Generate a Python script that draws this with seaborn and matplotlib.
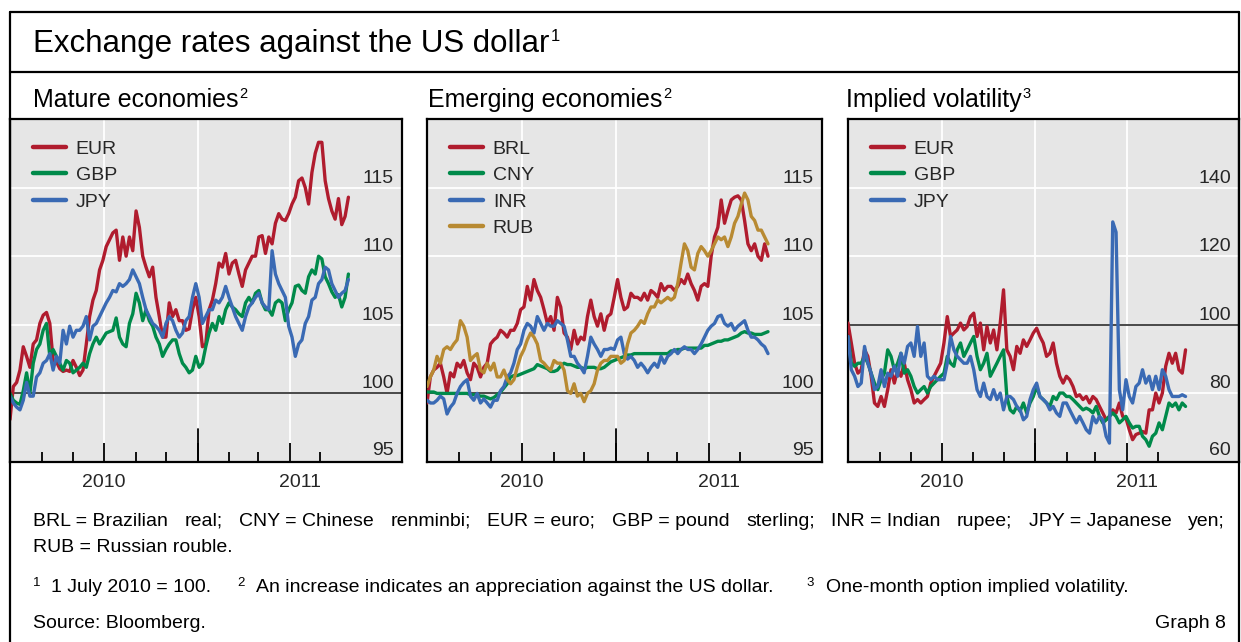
import numpy as np
import pandas as pd
import matplotlib
matplotlib.use("Agg")
import matplotlib.pyplot as plt
import matplotlib.dates as mdates
import matplotlib.ticker as mticker
import matplotlib.transforms as mtransforms
from matplotlib.lines import Line2D
import seaborn as sns

# ---------------- data (index, 1 July 2010 = 100) ----------------
START = "2010-07-01"
N_OBS = 103
dates = pd.date_range(START, periods=N_OBS, freq="78h")

mature_eur = [
    98.1, 100.5, 100.8, 101.7, 103.4, 102.7, 101.9, 103.6, 103.9, 105.1,
    105.7, 105.9, 105.1, 102.4, 102.3, 101.8, 101.6, 101.7, 101.6, 102.4,
    101.9, 101.3, 101.7, 103.6, 105.6, 106.8, 107.5, 109.0, 109.7, 110.7,
    111.2, 111.7, 111.9, 109.7, 111.4, 110.0, 111.4, 110.4, 113.3, 112.1,
    110.0, 109.2, 108.5, 109.2, 107.0, 105.6, 104.1, 104.1, 106.6, 105.6,
    106.1, 105.3, 105.3, 104.6, 104.7, 106.1, 107.0, 105.6, 103.4, 103.6,
    106.1, 106.8, 108.0, 109.5, 109.2, 110.2, 108.7, 109.5, 109.7, 108.7,
    107.8, 109.0, 109.5, 110.0, 110.0, 111.4, 111.5, 110.2, 111.4, 110.9,
    112.4, 113.1, 112.7, 112.6, 113.1, 113.8, 114.3, 115.5, 115.7, 115.0,
    113.8, 116.1, 117.5, 118.3, 118.3, 115.5, 114.2, 113.3, 112.7, 114.2,
    112.3, 112.9, 114.3]
mature_gbp = [
    100.0, 99.5, 99.3, 99.2, 100.2, 101.5, 100.0, 102.2, 103.2, 103.6,
    104.6, 105.1, 102.7, 103.2, 102.7, 102.2, 101.7, 102.4, 102.2, 101.5,
    101.7, 101.9, 102.2, 101.9, 102.9, 103.6, 104.1, 103.6, 104.0, 104.4,
    104.5, 104.6, 105.5, 104.1, 103.6, 103.4, 105.1, 105.8, 107.3, 106.6,
    105.3, 106.1, 105.3, 104.9, 104.1, 103.6, 102.7, 103.2, 103.6, 103.9,
    103.9, 102.9, 102.2, 101.9, 101.5, 101.7, 102.7, 101.9, 102.2, 103.4,
    104.4, 105.1, 104.6, 105.6, 105.1, 106.1, 106.6, 106.3, 106.1, 105.8,
    105.6, 106.6, 107.0, 106.6, 107.3, 107.5, 106.6, 106.1, 106.1, 105.7,
    106.6, 106.8, 106.6, 105.3, 106.1, 106.6, 107.8, 107.9, 107.5, 107.3,
    108.5, 109.0, 108.7, 110.0, 109.8, 108.5, 108.0, 107.4, 107.0, 107.2,
    106.3, 107.0, 108.7]
mature_jpy = [
    99.8, 99.3, 99.0, 98.8, 99.5, 100.8, 99.8, 99.8, 101.2, 101.5,
    102.2, 102.4, 102.9, 101.7, 102.7, 102.2, 104.6, 103.6, 104.9, 104.1,
    104.6, 104.6, 104.9, 105.6, 103.9, 104.9, 105.1, 105.6, 106.1, 106.6,
    107.0, 107.5, 107.4, 108.0, 107.8, 108.0, 108.3, 109.0, 108.5, 108.0,
    107.0, 106.1, 105.6, 105.1, 104.9, 104.6, 104.1, 105.1, 105.6, 105.3,
    104.6, 104.1, 104.4, 105.3, 105.6, 107.0, 108.0, 107.0, 105.1, 105.6,
    106.1, 106.1, 106.8, 106.6, 107.0, 107.8, 107.0, 106.3, 105.6, 105.1,
    104.6, 105.6, 106.3, 106.6, 107.0, 107.3, 106.6, 106.3, 106.1, 110.4,
    108.7, 108.0, 107.5, 107.0, 104.9, 104.1, 102.7, 103.6, 103.9, 105.1,
    105.6, 106.8, 107.0, 108.0, 108.3, 109.2, 109.0, 108.0, 107.5, 107.0,
    107.3, 107.5, 108.3]

emerging_brl = [
    99.3, 101.2, 101.7, 101.9, 102.2, 101.2, 100.0, 101.5, 101.2, 102.2,
    101.9, 102.4, 101.5, 101.0, 102.2, 101.9, 101.2, 101.9, 102.2, 103.6,
    103.9, 104.1, 104.6, 104.4, 104.1, 104.6, 104.6, 105.1, 106.1, 106.3,
    107.8, 106.8, 108.3, 107.5, 107.0, 106.1, 105.1, 105.6, 104.6, 107.0,
    106.3, 104.4, 104.1, 103.2, 104.6, 103.6, 104.1, 103.9, 105.6, 106.8,
    105.6, 104.9, 105.8, 104.6, 105.6, 105.8, 107.0, 108.3, 107.0, 106.1,
    106.3, 107.3, 107.0, 107.0, 106.8, 107.3, 106.8, 107.5, 107.3, 107.0,
    108.0, 107.5, 107.8, 107.8, 107.5, 107.8, 108.3, 108.0, 108.7, 108.0,
    107.5, 106.8, 107.8, 108.0, 107.8, 110.0, 111.4, 112.1, 114.1, 112.4,
    113.3, 114.1, 114.3, 114.4, 114.1, 112.6, 110.9, 110.4, 110.9, 110.0,
    109.7, 110.9, 110.0]
emerging_cny = [
    100.1, 100.1, 100.1, 100.0, 100.0, 100.0, 100.0, 100.0, 100.0, 100.0,
    100.0, 100.0, 100.0, 99.9, 99.9, 99.9, 99.8, 99.8, 99.7, 99.6,
    99.7, 99.9, 100.1, 100.4, 100.7, 101.2, 101.3, 101.3, 101.4, 101.5,
    101.6, 101.7, 101.8, 102.1, 102.0, 101.9, 101.8, 101.6, 101.6, 101.7,
    102.0, 102.2, 102.1, 102.1, 102.0, 101.9, 101.9, 101.8, 101.9, 101.9,
    101.9, 101.8, 101.8, 101.9, 102.1, 102.3, 102.4, 102.5, 102.6, 102.7,
    102.8, 102.8, 102.9, 102.9, 102.9, 102.9, 102.9, 102.9, 102.9, 102.9,
    102.9, 102.9, 102.9, 103.1, 103.1, 103.2, 103.2, 103.3, 103.3, 103.3,
    103.3, 103.3, 103.3, 103.5, 103.5, 103.6, 103.7, 103.8, 103.8, 103.9,
    103.9, 104.0, 104.1, 104.2, 104.4, 104.5, 104.4, 104.4, 104.3, 104.3,
    104.3, 104.4, 104.5]
emerging_inr = [
    99.5, 99.3, 99.3, 99.5, 99.8, 99.6, 98.5, 99.0, 99.3, 100.0,
    100.5, 100.8, 101.0, 99.8, 99.5, 100.0, 99.3, 99.6, 99.3, 99.0,
    99.5, 99.5, 100.2, 100.5, 101.2, 101.5, 102.2, 103.2, 103.6, 104.6,
    105.1, 104.9, 104.4, 105.6, 105.1, 104.6, 105.1, 104.9, 104.9, 105.3,
    105.1, 104.9, 103.9, 102.7, 102.7, 102.2, 101.9, 101.5, 102.7, 104.1,
    103.6, 103.2, 102.7, 103.2, 103.2, 103.3, 103.2, 103.9, 104.1, 102.9,
    102.5, 102.7, 102.4, 101.9, 102.2, 101.9, 101.5, 101.9, 102.2, 101.9,
    102.7, 102.2, 102.7, 102.9, 103.2, 102.9, 103.2, 103.4, 103.2, 103.2,
    102.9, 103.2, 103.6, 104.1, 104.6, 104.9, 105.1, 105.6, 105.7, 105.1,
    104.9, 105.1, 104.6, 104.9, 105.1, 105.3, 104.6, 104.1, 104.1, 103.9,
    103.6, 103.4, 102.9]
emerging_rub = [
    100.5, 101.2, 101.7, 102.7, 102.2, 103.2, 103.4, 103.2, 103.6, 103.9,
    105.3, 104.9, 104.1, 102.4, 102.7, 102.9, 101.7, 101.5, 102.2, 101.7,
    102.2, 101.2, 101.2, 101.7, 101.0, 100.7, 101.0, 101.9, 102.7, 103.2,
    103.9, 104.4, 104.1, 103.6, 102.4, 102.2, 101.9, 101.7, 102.4, 102.2,
    102.2, 101.7, 100.2, 100.0, 100.7, 99.8, 100.0, 99.4, 100.0, 100.2,
    100.7, 101.7, 102.2, 102.4, 102.4, 102.7, 102.7, 102.7, 102.2, 102.4,
    103.6, 104.4, 104.6, 104.9, 105.3, 105.1, 105.8, 106.3, 106.3, 106.8,
    106.6, 106.8, 107.0, 106.8, 107.0, 108.0, 109.5, 110.9, 110.4, 109.2,
    109.0, 110.2, 110.7, 110.4, 110.0, 110.4, 110.9, 111.4, 111.2, 111.4,
    110.7, 111.4, 112.4, 112.9, 113.8, 114.6, 114.1, 112.9, 112.6, 111.9,
    111.9, 111.4, 110.9]

vol_eur = [
    100.5, 94.7, 88.8, 85.9, 86.9, 92.7, 90.8, 85.0, 77.2, 76.2,
    79.1, 76.2, 81.1, 86.9, 83.0, 86.9, 85.0, 88.8, 84.0, 81.1,
    77.2, 78.2, 77.2, 78.2, 79.1, 83.0, 85.0, 86.9, 88.8, 94.7,
    102.4, 96.6, 97.6, 98.5, 100.5, 98.5, 99.5, 102.4, 103.4, 96.6,
    100.5, 92.7, 99.5, 94.7, 98.5, 92.7, 100.5, 110.2, 92.7, 90.8,
    86.9, 93.7, 91.7, 95.6, 93.7, 95.6, 97.6, 99.0, 96.6, 94.7,
    90.8, 91.7, 94.7, 88.8, 85.0, 83.0, 85.0, 84.0, 82.0, 79.1,
    79.6, 78.2, 79.1, 77.2, 79.1, 78.2, 76.2, 74.3, 72.3, 73.3,
    75.2, 74.3, 77.2, 73.3, 72.8, 69.4, 66.5, 68.0, 68.4, 68.9,
    68.4, 75.2, 75.2, 80.1, 77.2, 80.1, 87.9, 91.7, 88.8, 91.7,
    86.9, 85.9, 92.7]
vol_gbp = [
    96.6, 88.8, 87.9, 88.8, 88.8, 90.8, 88.8, 85.9, 83.0, 81.1,
    84.0, 85.9, 92.7, 90.8, 86.9, 88.8, 91.7, 85.9, 86.9, 85.0,
    82.0, 80.1, 81.1, 82.0, 80.1, 82.0, 83.0, 84.0, 85.0, 85.9,
    90.8, 88.8, 87.9, 92.7, 94.7, 90.8, 92.7, 94.7, 96.6, 90.8,
    86.9, 88.8, 91.7, 85.0, 86.9, 88.8, 90.8, 92.7, 79.1, 75.2,
    74.3, 76.2, 74.8, 77.2, 74.3, 77.2, 79.1, 82.0, 79.1, 78.2,
    77.2, 76.2, 79.1, 78.2, 80.1, 80.1, 79.1, 79.1, 78.2, 77.2,
    76.2, 75.2, 75.7, 75.2, 74.3, 76.2, 73.3, 71.4, 72.3, 73.3,
    74.3, 73.3, 71.4, 72.3, 73.3, 71.4, 69.9, 70.4, 70.4, 67.5,
    66.5, 64.6, 67.5, 68.4, 71.4, 69.4, 73.3, 77.2, 76.2, 77.2,
    75.2, 77.2, 76.2]
vol_jpy = [
    96.6, 86.9, 85.0, 82.0, 83.0, 93.7, 88.8, 85.9, 81.1, 82.0,
    86.9, 82.0, 85.9, 85.0, 87.9, 85.0, 91.7, 88.8, 93.7, 94.7,
    90.8, 99.5, 90.8, 94.7, 85.0, 84.0, 85.0, 84.0, 84.0, 84.0,
    88.8, 96.6, 92.7, 90.8, 89.8, 88.8, 88.8, 90.8, 86.9, 81.1,
    79.1, 83.0, 79.1, 78.2, 81.1, 78.2, 80.1, 75.2, 79.1, 79.1,
    78.2, 76.2, 75.2, 72.3, 73.3, 78.2, 81.1, 83.0, 79.1, 78.2,
    77.2, 75.2, 76.2, 74.3, 73.3, 77.2, 77.2, 75.2, 73.3, 71.4,
    73.3, 71.4, 69.4, 68.4, 73.3, 71.4, 73.3, 72.3, 67.5, 65.5,
    130.0, 127.0, 81.1, 75.2, 84.0, 79.1, 77.2, 82.0, 83.0, 86.9,
    83.0, 85.0, 81.1, 85.0, 81.1, 86.9, 85.0, 81.1, 79.1, 79.1,
    79.1, 79.6, 79.1]

mature_names = ["EUR", "GBP", "JPY"]
emerging_names = ["BRL", "CNY", "INR", "RUB"]
vol_names = ["EUR", "GBP", "JPY"]

ticks_fx = [95, 100, 105, 110, 115]
ticks_vol = [60, 80, 100, 120, 140]

# ---------------- style ----------------
RED, GREEN, BLUE, GOLD = "#B01C2E", "#008A4A", "#3A6AB4", "#B88A32"
BG = "#E6E6E6"

sns.set_theme(style="white")
plt.rcParams["font.family"] = ["Liberation Sans", "DejaVu Sans"]

W, H = 1241, 642
fig = plt.figure(figsize=(W / 100, H / 100), dpi=100)
fig.patch.set_facecolor("white")
renderer = fig.canvas.get_renderer()

XMIN = pd.Timestamp("2010-07-01")
XMAX = pd.Timestamp("2011-07-20")
YEAR_START = pd.Timestamp("2011-01-01")
QUARTERS = [pd.Timestamp("2010-10-01"), YEAR_START, pd.Timestamp("2011-04-01")]
MONTHS = [d for d in pd.date_range("2010-08-01", "2011-05-01", freq="MS")
          if d not in QUARTERS]
TOP, BOTTOM = 119, 462
SMALL = 14


def put(x, y, s, size, **kw):
    return fig.text(x / W, 1 - y / H, s, fontsize=size, color="black",
                    ha=kw.pop("ha", "left"), va=kw.pop("va", "baseline"), **kw)


def wpx(t):
    return t.get_window_extent(renderer=renderer).width


def run(x, y, parts):
    for s, size, rise, gap in parts:
        t = put(x, y - rise, s, size)
        x += wpx(t) + gap
    return x


panels = [
    dict(left=10, right=402, title="Mature economies", sup="2", tx=33,
         names=mature_names, values=[mature_eur, mature_gbp, mature_jpy],
         colors=[RED, GREEN, BLUE], ylim=(95, 120), ticks=ticks_fx),
    dict(left=427, right=822, title="Emerging economies", sup="2", tx=428,
         names=emerging_names,
         values=[emerging_brl, emerging_cny, emerging_inr, emerging_rub],
         colors=[RED, GREEN, BLUE, GOLD], ylim=(95, 120), ticks=ticks_fx),
    dict(left=848, right=1239, title="Implied volatility", sup="3", tx=846,
         names=vol_names, values=[vol_eur, vol_gbp, vol_jpy],
         colors=[RED, GREEN, BLUE], ylim=(60, 160), ticks=ticks_vol),
]

for p in panels:
    wid = p["right"] - p["left"]
    hei = BOTTOM - TOP
    ax = fig.add_axes([p["left"] / W, 1 - BOTTOM / H, wid / W, hei / H])
    ax.set_facecolor(BG)
    names = p["names"]
    df = pd.DataFrame({
        "date": np.tile(dates.values, len(names)),
        "value": np.concatenate([np.asarray(v, float) for v in p["values"]]),
        "series": np.repeat(names, N_OBS),
    })
    sns.lineplot(data=df, x="date", y="value", hue="series", hue_order=names,
                 palette=p["colors"], linewidth=2.4, estimator=None, ax=ax,
                 legend=False, zorder=3)
    ax.set_xlim(XMIN, XMAX)
    ax.set_ylim(*p["ylim"])
    ax.set_xlabel("")
    ax.set_ylabel("")
    ax.set_axisbelow(True)

    # horizontal grid / reference line
    ax.set_yticks([t for t in p["ticks"] if t != p["ylim"][0]])
    ax.yaxis.grid(True, color="white", linewidth=1.3)
    ax.tick_params(axis="y", length=0, labelleft=False, labelright=False)
    ax.axhline(100, color="#2a2a2a", linewidth=1.2, zorder=2)

    # x ticks: monthly small, quarterly medium, year tall
    ax.xaxis.set_major_locator(mticker.FixedLocator(mdates.date2num(QUARTERS)))
    ax.xaxis.set_minor_locator(mticker.FixedLocator(mdates.date2num(MONTHS)))
    ax.xaxis.grid(True, which="major", color="white", linewidth=1.3)
    ax.tick_params(axis="x", which="major", direction="in", length=14,
                   width=1.3, color="black", bottom=True, labelbottom=False)
    ax.tick_params(axis="x", which="minor", direction="in", length=7.5,
                   width=1.3, color="black", bottom=True, labelbottom=False)
    ax.axvline(YEAR_START, ymin=0, ymax=33 / hei, color="black", linewidth=1.3,
               zorder=4)

    for s in ax.spines.values():
        s.set_visible(True)
        s.set_color("black")
        s.set_linewidth(1.6)

    # y labels inside, right aligned above the grid lines
    ytr = mtransforms.blended_transform_factory(ax.transAxes, ax.transData)
    for t in p["ticks"]:
        dy = 7 if t == p["ylim"][0] else 5
        off = mtransforms.ScaledTranslation(-8 / 100, dy / 100, fig.dpi_scale_trans)
        ax.text(1, t, str(t), transform=ytr + off, ha="right", va="baseline",
                fontsize=SMALL, zorder=5)

    # year labels
    xtr = mtransforms.blended_transform_factory(ax.transData, ax.transAxes)
    offy = mtransforms.ScaledTranslation(0, -25 / 100, fig.dpi_scale_trans)
    mid10 = XMIN + (YEAR_START - XMIN) / 2
    mid11 = YEAR_START + (XMAX - YEAR_START) / 2
    for lab, d in (("2010", mid10), ("2011", mid11)):
        ax.text(mdates.date2num(d), 0, lab, transform=xtr + offy, ha="center",
                va="baseline", fontsize=SMALL, clip_on=False)

    # legend
    handles = [Line2D([0], [0], color=c, linewidth=3.2) for c in p["colors"]]
    ax.legend(handles, names, loc="upper left",
              bbox_to_anchor=(23 / wid, 1 - 21 / hei), frameon=False,
              fontsize=SMALL, handlelength=1.7, handletextpad=0.5,
              labelspacing=0.46, borderpad=0, borderaxespad=0)

    # panel title
    run(p["tx"], 107, [(p["title"], 18, 0, 1), (p["sup"], 10.5, 9, 0)])

# ---------------- frame and texts ----------------
for y in (12, 72):
    fig.add_artist(Line2D([10 / W, 1239 / W], [1 - y / H, 1 - y / H],
                          color="black", linewidth=1.6, transform=fig.transFigure))
for x in (10, 1239):
    fig.add_artist(Line2D([x / W, x / W], [1 - 12 / H, 0],
                          color="black", linewidth=1.6, transform=fig.transFigure))

run(33, 52, [("Exchange rates against the US dollar", 22.5, 0, 1), ("1", 12, 11, 0)])

tokens = ["BRL = Brazilian", "real;", "CNY = Chinese", "renminbi;", "EUR = euro;",
          "GBP = pound", "sterling;", "INR = Indian", "rupee;", "JPY = Japanese", "yen;"]
texts = [put(0, 526, tk, SMALL) for tk in tokens]
widths = [wpx(t) for t in texts]
gap = (1225 - 33 - sum(widths)) / (len(tokens) - 1)
x = 33
for t, w in zip(texts, widths):
    t.set_x(x / W)
    x += w + gap

put(33, 552, "RUB = Russian rouble.", SMALL)

for xs, sup in ((33, "1"), (237, "2"), (806, "3")):
    put(xs, 586, sup, 9.5)
put(51, 592, "1 July 2010 = 100.", SMALL)
put(256, 592, "An increase indicates an appreciation against the US dollar.", SMALL)
put(826, 592, "One-month option implied volatility.", SMALL)

put(33, 628, "Source: Bloomberg.", SMALL)
put(1226, 628, "Graph 8", SMALL, ha="right")

fig.savefig("out.png", dpi=100, facecolor="white")
